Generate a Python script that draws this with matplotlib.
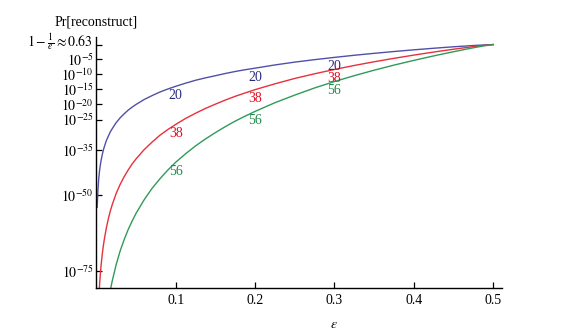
import numpy as np
import matplotlib.pyplot as plt
import matplotlib.transforms as mtransforms

plt.rcParams['font.family'] = 'serif'
plt.rcParams['font.serif'] = ['Liberation Serif', 'DejaVu Serif']
plt.rcParams['mathtext.fontset'] = 'stix'

# --- Data: log10 Pr[reconstruct] versus epsilon, one series per n ---
eps_20 = [0.001, 0.002, 0.003, 0.004, 0.005, 0.006, 0.0075, 0.009, 0.01, 0.0125,
          0.015, 0.0175, 0.02, 0.025, 0.03, 0.035, 0.04, 0.045, 0.05, 0.06, 0.07,
          0.08, 0.09, 0.1, 0.1125, 0.125, 0.1375, 0.15, 0.1625, 0.175, 0.1875, 0.2,
          0.225, 0.25, 0.275, 0.3, 0.325, 0.35, 0.375, 0.4, 0.425, 0.4375, 0.45,
          0.4625, 0.475, 0.4875, 0.5]
logp_20 = [-54.0, -48.0, -44.4, -41.9, -40.0, -38.4, -36.5, -34.9, -34.0, -32.0,
           -30.5, -29.1, -28.0, -26.0, -24.4, -23.1, -21.9, -20.9, -20.0, -18.4, -17.1,
           -15.9, -14.9, -14.0, -12.96, -12.0, -11.21, -10.5, -9.76, -9.1, -8.52, -8.0,
           -6.94, -6.0, -5.19, -4.44, -3.74, -3.10, -2.50, -1.94, -1.42, -1.175, -0.94,
           -0.722, -0.52, -0.344, -0.20]

eps_38 = [0.003, 0.004, 0.005, 0.006, 0.0075, 0.009, 0.01, 0.0125, 0.015, 0.0175,
          0.02, 0.025, 0.03, 0.035, 0.04, 0.045, 0.05, 0.06, 0.07, 0.08, 0.09, 0.1,
          0.1125, 0.125, 0.1375, 0.15, 0.1625, 0.175, 0.1875, 0.2, 0.225, 0.25, 0.275,
          0.3, 0.325, 0.35, 0.375, 0.4, 0.425, 0.4375, 0.45, 0.4625, 0.475, 0.4875, 0.5]
logp_38 = [-84.4, -79.7, -76.0, -73.0, -69.3, -66.3, -64.6, -60.9, -57.9, -55.3,
           -53.1, -49.4, -46.4, -43.9, -41.7, -39.7, -38.0, -35.0, -32.5, -30.2, -28.3, -26.6,
           -24.62, -22.9, -21.31, -19.9, -18.55, -17.3, -16.19, -15.1, -13.18, -11.4, -9.86,
           -8.43, -7.11, -5.89, -4.75, -3.68, -2.68, -2.207, -1.74, -1.298, -0.88, -0.498, -0.20]

eps_56 = [0.015, 0.0175, 0.02, 0.025, 0.03, 0.035, 0.04, 0.045, 0.05, 0.06, 0.07,
          0.08, 0.09, 0.1, 0.1125, 0.125, 0.1375, 0.15, 0.1625, 0.175, 0.1875, 0.2,
          0.225, 0.25, 0.275, 0.3, 0.325, 0.35, 0.375, 0.4, 0.425, 0.4375, 0.45,
          0.4625, 0.475, 0.4875, 0.5]
logp_56 = [-85.3, -81.5, -78.3, -72.9, -68.4, -64.7, -61.4, -58.6, -56.0, -51.6, -47.8,
           -44.6, -41.7, -39.1, -36.28, -33.7, -31.40, -29.3, -27.33, -25.5, -23.86, -22.3,
           -19.42, -16.9, -14.54, -12.42, -10.48, -8.67, -6.99, -5.43, -3.95, -3.25, -2.57,
           -1.899, -1.26, -0.667, -0.20]

series = [('20', eps_20, logp_20, '#5050a8', '#2a2a7c'),
          ('38', eps_38, logp_38, '#e8303c', '#e01020'),
          ('56', eps_56, logp_56, '#2f9a5a', '#1f8a4a')]

label_eps = [0.1, 0.2, 0.3]

ytick_exp = [-75, -50, -35, -25, -20, -15, -10, -5]
ytick_vals = [10.0**e for e in ytick_exp]
ytick_labels = [r'$10^{%d}$' % e for e in ytick_exp]
top_val = 1 - 1/np.e
top_label = r'$1-\frac{1}{e}\approx 0.63$'
xtick_vals = [0.1, 0.2, 0.3, 0.4, 0.5]

# --- Figure ---
fig = plt.figure(figsize=(5.63, 3.33), dpi=100)
ax = fig.add_axes([0.1712, 1 - 288/333, 0.7204, 251/333])

for name, eps, logp, lc, tc in series:
    ax.plot(eps, 10.0**np.array(logp), color=lc, lw=1.0)
    for e in label_eps:
        yv = 10.0**np.interp(e, eps, logp)
        ax.annotate(name, (e, yv), xytext=(0, -6.5), textcoords='offset points',
                    ha='center', va='center', color=tc, fontsize=10)

ax.set_yscale('log')
ax.set_xlim(0, 0.511)
ax.set_ylim(10.0**-80.7, 10.0**2.3)
ax.set_xticks(xtick_vals)
ax.set_xticklabels([str(v) for v in xtick_vals])
ax.set_yticks(ytick_vals + [top_val])
ax.set_yticklabels(ytick_labels + [''])
ax.minorticks_off()
ax.tick_params(direction='in', length=4, width=0.9, labelsize=10, pad=4)
ax.tick_params(axis='y', pad=2)

# label for the 1-1/e tick, nudged up a little so it clears 10^-5
trans = ax.get_yaxis_transform() + mtransforms.ScaledTranslation(-3/100, 3/100, fig.dpi_scale_trans)
ax.text(0, top_val, top_label, transform=trans, ha='right', va='center', fontsize=10)

for side in ['top', 'right']:
    ax.spines[side].set_visible(False)
for side in ['left', 'bottom']:
    ax.spines[side].set_linewidth(1.0)

fig.text(96/563, 1 - 22/333, 'Pr[reconstruct]', ha='center', va='center', fontsize=10)
fig.text(334/563, 1 - 318/333, r'$\epsilon$', ha='center', va='top', fontsize=10)

fig.savefig('out.png', dpi=100)
plt.close()
